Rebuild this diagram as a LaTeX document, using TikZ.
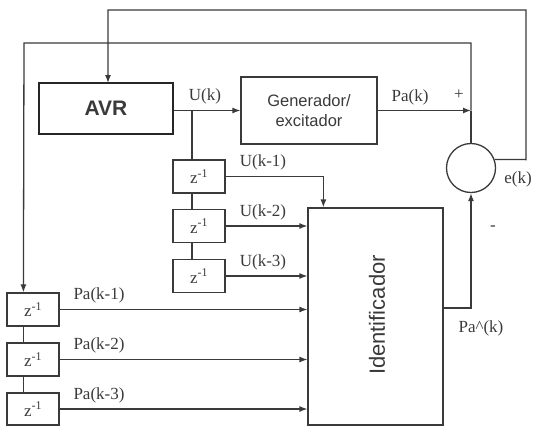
\documentclass[tikz,border=0pt]{standalone}
\usepackage{fontspec}
\setmainfont{Liberation Serif}
\newfontfamily\arialf{Liberation Sans}
\usetikzlibrary{arrows.meta}
\definecolor{ink}{HTML}{3A3A3A}
\tikzset{
  ln/.style={draw=ink, line width=1.3pt},
  arr/.style={ln, -{Latex[length=8pt,width=6pt]}},
  blk/.style={draw=ink, line width=1.2pt, rectangle, inner sep=0pt, text=ink},
  zbox/.style={blk, minimum width=52pt, minimum height=33pt,
    font=\fontsize{17}{19}\selectfont},
  lbl/.style={text=ink, inner sep=0pt, font=\fontsize{17}{19}\selectfont},
}
\begin{document}
\begin{tikzpicture}[x=1pt,y=-1pt]
\useasboundingbox (0,0) rectangle (535,426);
% blocks
\node[blk, line width=2.6pt, draw=black!85, minimum width=134pt, minimum height=51pt,
  font=\arialf\bfseries\fontsize{21}{24}\selectfont] (avr) at (106,108.5) {AVR};
\node[blk, minimum width=136pt, minimum height=67pt, align=center,
  font=\arialf\fontsize{16.5}{20}\selectfont] (gen) at (309,110.5) {Generador/\\excitador};
\node[draw=ink, line width=1.3pt, circle, minimum size=49pt, inner sep=0pt] (sum) at (471,168) {};
\node[blk, minimum width=135pt, minimum height=217pt] (ident) at (375.5,316.5) {};
\node[text=ink, rotate=90, font=\arialf\fontsize{22}{24}\selectfont] (identtxt) at (377,315) {Identificador};
% delay chains
\node[zbox] (zu1) at (199,176.5) {z\textsuperscript{-1}};
\node[zbox] (zu2) at (199,226) {z\textsuperscript{-1}};
\node[zbox] (zu3) at (199,276) {z\textsuperscript{-1}};
\node[zbox] (zp1) at (33,309.5) {z\textsuperscript{-1}};
\node[zbox] (zp2) at (33,359.5) {z\textsuperscript{-1}};
\node[zbox, minimum height=32pt] (zp3) at (33,409) {z\textsuperscript{-1}};
% helper coordinates
\coordinate (bu) at (192,110.5);
\coordinate (pj) at (471,110.5);
\coordinate (lx) at ([xshift=17pt]zp1.north west);
\coordinate (ui) at ([xshift=16pt]ident.north west);
% connectors
\draw[arr] (avr.east |- gen.west) -- (gen.west);
\draw[ln] (bu) -- (bu |- zu1.north);
\draw[ln] (bu |- zu1.south) -- (bu |- zu2.north);
\draw[ln] (bu |- zu2.south) -- (bu |- zu3.north);
\draw[arr] (zu1.east) -| (ui);
\draw[arr] (zu2.east) -- (ident.west |- zu2.east);
\draw[arr] (zu3.east) -- (ident.west |- zu3.east);
\draw[arr] (zp1.east) -- (ident.west |- zp1.east);
\draw[arr] (zp2.east) -- (ident.west |- zp2.east);
\draw[arr] (zp3.east) -- (ident.west |- zp3.east);
\draw[ln] (lx |- zp1.south) -- (lx |- zp2.north);
\draw[ln] (lx |- zp2.south) -- (lx |- zp3.north);
\draw[arr] (gen.east) -- (pj);
\draw[ln] (pj) -- (sum.north);
\draw[arr] (pj) -- (471,43) -- (24,43) -- (lx);
\draw[arr] ([yshift=8.5pt]ident.east) -| (sum.south);
\draw[arr] (sum.20) -- (526,159.6) -- (526,10) -- (108,10) -- (108,83);
% labels
\node[lbl] (lu) at (205,96) {U(k)};
\node[lbl] (lpa) at (410,97) {Pa(k)};
\node[lbl] (lplus) at (459,95) {+};
\node[lbl] (lek) at (518,179) {e(k)};
\node[lbl] (lminus) at (493,228) {-};
\node[lbl] (lpah) at (481,328) {Pa\textasciicircum(k)};
\node[lbl] (lu1) at (263,162) {U(k-1)};
\node[lbl] (lu2) at (263,212) {U(k-2)};
\node[lbl] (lu3) at (263,262) {U(k-3)};
\node[lbl] (lp1) at (99,295) {Pa(k-1)};
\node[lbl] (lp2) at (99,345) {Pa(k-2)};
\node[lbl] (lp3) at (99,395) {Pa(k-3)};
\end{tikzpicture}
\end{document}
